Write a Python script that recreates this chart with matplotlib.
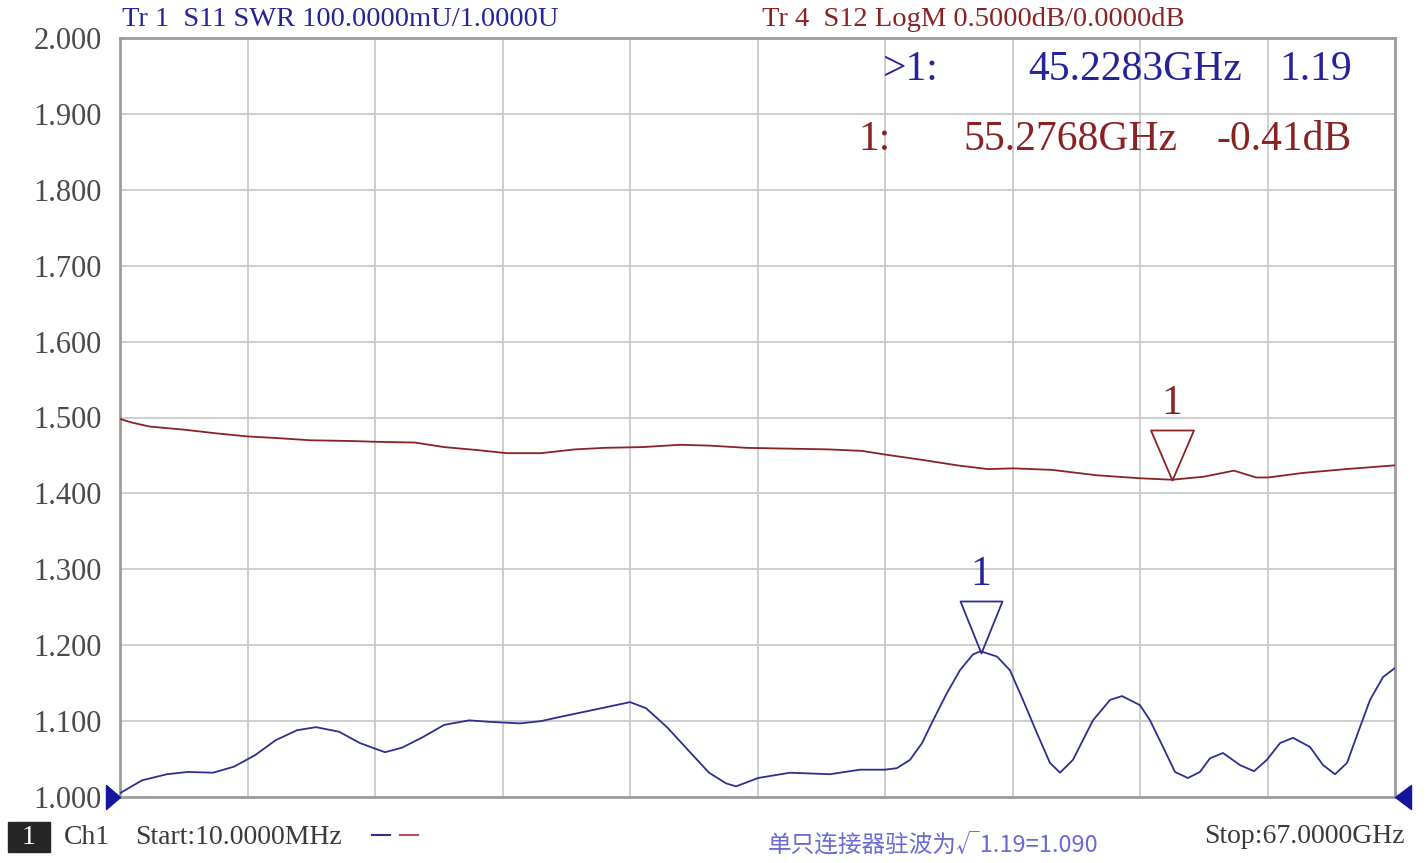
import numpy as np
import matplotlib
matplotlib.use("Agg")
import matplotlib.pyplot as plt
from matplotlib.path import Path
from matplotlib.lines import Line2D
from matplotlib.patches import Rectangle

# S11 SWR trace (Tr 1), frequency in GHz
s11_freq = [0.01, 1.17, 2.48, 3.58, 4.90, 6.00, 7.10, 8.20, 9.31, 10.31,
            11.52, 12.62, 13.93, 14.83, 15.93, 17.04, 18.35, 19.45, 21.03, 22.14,
            23.03, 24.55, 25.86, 26.81, 27.65, 28.75, 29.85, 30.96, 31.85, 32.38,
            33.53, 35.21, 37.31, 38.89, 40.20, 40.83, 41.52, 42.15, 42.73, 43.46,
            44.14, 44.83, 45.23, 46.09, 46.77, 47.45, 48.19, 48.87, 49.40, 50.08,
            51.13, 52.03, 52.66, 53.60, 54.13, 54.81, 55.44, 56.12, 56.75, 57.28,
            57.96, 58.86, 59.59, 60.27, 60.96, 61.64, 62.53, 63.22, 63.85, 64.48,
            65.16, 65.69, 66.37, 67.00]
s11_swr = [1.005, 1.022, 1.030, 1.033, 1.032, 1.040, 1.055, 1.075, 1.088, 1.092,
           1.086, 1.071, 1.059, 1.065, 1.079, 1.095, 1.101, 1.099, 1.097, 1.100,
           1.105, 1.113, 1.120, 1.125, 1.117, 1.092, 1.062, 1.032, 1.018, 1.014,
           1.025, 1.032, 1.030, 1.036, 1.036, 1.038, 1.049, 1.071, 1.101, 1.137,
           1.167, 1.188, 1.192, 1.185, 1.167, 1.128, 1.084, 1.045, 1.032, 1.049,
           1.101, 1.128, 1.133, 1.121, 1.101, 1.066, 1.033, 1.025, 1.033, 1.051,
           1.058, 1.042, 1.034, 1.049, 1.071, 1.078, 1.066, 1.042, 1.030, 1.045,
           1.092, 1.128, 1.158, 1.170]

# S12 LogM trace (Tr 4), dB
s12_freq = [0.01, 0.69, 1.59, 3.37, 5.11, 6.74, 8.20, 9.99, 12.20, 13.41,
            15.51, 17.04, 18.82, 20.34, 22.13, 23.92, 25.44, 27.44, 29.43, 30.96,
            32.95, 37.21, 38.99, 40.26, 42.20, 43.99, 45.62, 46.93, 48.98, 51.29,
            53.55, 55.28, 56.96, 58.54, 59.70, 60.33, 62.17, 64.43, 67.00]
s12_db = [-0.01, -0.035, -0.06, -0.08, -0.105, -0.125, -0.135, -0.15, -0.155, -0.16,
          -0.165, -0.195, -0.215, -0.235, -0.235, -0.21, -0.20, -0.195, -0.18, -0.185,
          -0.20, -0.21, -0.22, -0.245, -0.28, -0.315, -0.34, -0.335, -0.345, -0.38,
          -0.40, -0.41, -0.39, -0.35, -0.395, -0.395, -0.365, -0.34, -0.315]

mk1_freq, mk1_val = 45.2283, 1.19
mk4_freq, mk4_val = 55.2768, -0.41

f_start, f_stop = 0.01, 67.0
swr_ticks = np.arange(1.0, 2.001, 0.1)

W, H = 1427, 863
BLUE = "#2e2e8e"
BLUE_TXT = "#23239a"
RED = "#8b2222"
SERIF = "Liberation Serif"


def px(x, y):
    return x / W, 1 - y / H


def tri(verts):
    # custom marker with the tip at the data point, sizes given in pixels
    v = np.array(verts, float)
    ms = 2 * np.abs(v).max() * 0.72
    return Path(np.vstack([v, v[:1]]), closed=True), ms


fig = plt.figure(figsize=(W / 100, H / 100), dpi=100)
ax = fig.add_axes([120 / W, 1 - 797 / H, 1275 / W, 759 / H])

ax.plot(s11_freq, s11_swr, color=BLUE, lw=1.3, zorder=3)
ax.set_xlim(f_start, f_stop)
ax.set_ylim(1.0, 2.0)
ax.set_xticks(np.linspace(f_start, f_stop, 11))
ax.set_xticklabels([])
ax.set_yticks(swr_ticks)
ax.set_yticklabels(["%.3f" % t for t in swr_ticks], fontsize=22, family=SERIF, color="#4a4a4a")
ax.tick_params(length=0, pad=13)
ax.grid(True, color="#c9c9c9", lw=1.3)
for s in ax.spines.values():
    s.set_color("#9c9c9c")
    s.set_linewidth(2)

ax2 = ax.twinx()
ax2.plot(s12_freq, s12_db, color=RED, lw=1.3, zorder=3)
ax2.set_ylim(-2.5, 2.5)
ax2.set_yticks([])
for s in ax2.spines.values():
    s.set_visible(False)

# marker triangles + labels
p, ms = tri([(0, 0), (21, 52), (-21, 52)])
ax.plot([mk1_freq], [mk1_val], marker=p, ms=ms, mfc="none", mec=BLUE, mew=1.3, clip_on=False, zorder=5)
ax.annotate("1", (mk1_freq, mk1_val), xytext=(0, 56), textcoords="offset points",
            ha="center", va="center", fontsize=30, family=SERIF, color=BLUE_TXT)
p, ms = tri([(0, 0), (21.5, 50), (-21.5, 50)])
ax2.plot([mk4_freq], [mk4_val], marker=p, ms=ms, mfc="none", mec=RED, mew=1.3, clip_on=False, zorder=5)
ax2.annotate("1", (mk4_freq, mk4_val), xytext=(0, 55), textcoords="offset points",
             ha="center", va="center", fontsize=30, family=SERIF, color=RED)

# reference position arrows
p, ms = tri([(0, 0), (-14, 12), (-14, -12)])
ax.plot([f_start], [1.0], marker=p, ms=ms, color="#14149e", clip_on=False, zorder=6)
p, ms = tri([(0, 0), (16, 12), (16, -12)])
ax.plot([f_stop], [1.0], marker=p, ms=ms, color="#14149e", clip_on=False, zorder=6)

# header
fig.text(*px(122, 20), "Tr 1  S11 SWR 100.0000mU/1.0000U", fontsize=20.5, family=SERIF,
         color=BLUE_TXT, ha="left", va="center")
fig.text(*px(762, 20), "Tr 4  S12 LogM 0.5000dB/0.0000dB", fontsize=20.5, family=SERIF,
         color=RED, ha="left", va="center")

# marker readouts
fig.text(*px(883, 70), ">1:", fontsize=30, family=SERIF, color=BLUE_TXT, ha="left", va="center")
fig.text(*px(1242, 70), "%.4fGHz" % mk1_freq, fontsize=30, family=SERIF, color=BLUE_TXT, ha="right", va="center")
fig.text(*px(1352, 70), "%.2f" % mk1_val, fontsize=30, family=SERIF, color=BLUE_TXT, ha="right", va="center")
fig.text(*px(858, 140), "1:", fontsize=30, family=SERIF, color=RED, ha="left", va="center")
fig.text(*px(1177, 140), "%.4fGHz" % mk4_freq, fontsize=30, family=SERIF, color=RED, ha="right", va="center")
fig.text(*px(1352, 140), "%.2fdB" % mk4_val, fontsize=30, family=SERIF, color=RED, ha="right", va="center")

# footer
x0, y0 = px(8, 852)
x1, y1 = px(50, 822)
fig.add_artist(Rectangle((x0, y0), x1 - x0, y1 - y0, transform=fig.transFigure, color="#262626"))
fig.text(*px(29, 837), "1", fontsize=20, family=SERIF, color="white", ha="center", va="center")
fig.text(*px(64, 837), "Ch1", fontsize=20, family=SERIF, color="#3a3a3a", ha="left", va="center")
fig.text(*px(135, 837), "Start:10.0000MHz", fontsize=20, family=SERIF, color="#3a3a3a", ha="left", va="center")
for xa, xb, c in [(372, 390, BLUE), (400, 418, "#c05050")]:
    (a, yy), (b, _) = px(xa, 835), px(xb, 835)
    fig.add_artist(Line2D([a, b], [yy, yy], transform=fig.transFigure, color=c, lw=1.5))
fig.text(*px(768, 846), "单只连接器驻波为√1.19=1.090", fontsize=17,
         family=["Noto Sans CJK SC", "DejaVu Sans"], color="#6a6ad6", ha="left", va="center")
fig.text(*px(1405, 836), "Stop:67.0000GHz", fontsize=20, family=SERIF, color="#3a3a3a", ha="right", va="center")

fig.savefig("out.png", dpi=100, facecolor="white")
